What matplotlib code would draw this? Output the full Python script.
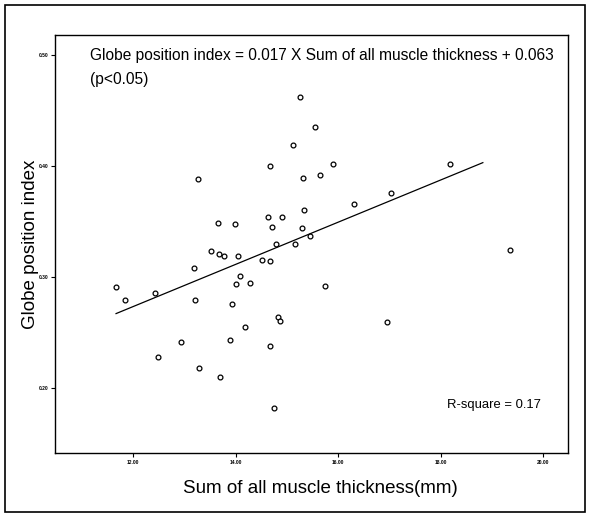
import numpy as np
import matplotlib
matplotlib.use("Agg")
import matplotlib.pyplot as plt
from matplotlib.patches import Rectangle

plt.rcParams['font.family'] = ['Liberation Sans', 'DejaVu Sans']

thickness = [11.67, 11.84, 12.43, 12.49, 12.94, 13.19, 13.21, 13.27, 13.29, 13.52,
             13.66, 13.68, 13.69, 13.77, 13.89, 13.93, 13.99, 14.01, 14.05, 14.09,
             14.18, 14.28, 14.51, 14.63, 14.67, 14.67, 14.67, 14.71, 14.75, 14.79,
             14.82, 14.86, 14.90, 15.12, 15.16, 15.25, 15.29, 15.31, 15.33, 15.45,
             15.55, 15.64, 15.74, 15.90, 16.31, 16.95, 17.03, 18.18, 19.34]
gpi = [0.291, 0.279, 0.286, 0.228, 0.241, 0.308, 0.279, 0.388, 0.218, 0.323,
       0.349, 0.321, 0.210, 0.319, 0.243, 0.276, 0.348, 0.294, 0.319, 0.301,
       0.255, 0.295, 0.315, 0.354, 0.400, 0.314, 0.238, 0.345, 0.182, 0.330,
       0.264, 0.260, 0.354, 0.419, 0.330, 0.462, 0.344, 0.389, 0.360, 0.337,
       0.435, 0.392, 0.292, 0.402, 0.366, 0.259, 0.376, 0.402, 0.324]

line_x = [11.67, 18.82]
line_y = [0.267, 0.403]

xticks = [12, 14, 16, 18, 20]
yticks = [0.20, 0.30, 0.40, 0.50]

fig = plt.figure(figsize=(5.9, 5.16), dpi=100)
fig.patches.append(Rectangle((5/590, 4/516), 580/590, 507/516, transform=fig.transFigure,
                             fill=False, edgecolor="black", linewidth=1.2))
ax = fig.add_axes([55/590, 1 - 453/516, 513/590, 418/516])

ax.scatter(thickness, gpi, s=12, facecolors="white", edgecolors="black", linewidths=0.9, zorder=3)
ax.plot(line_x, line_y, color="black", linewidth=0.9, zorder=2)

ax.set_xlim(10.48, 20.48)
ax.set_ylim(0.1414, 0.518)
ax.set_xticks(xticks)
ax.set_xticklabels([f"{v:.2f}" for v in xticks], fontsize=3.5, fontweight="bold")
ax.set_yticks(yticks)
ax.set_yticklabels([f"{v:.2f}" for v in yticks], fontsize=3.5, fontweight="bold")
ax.tick_params(direction="out", length=3, width=0.8, pad=2)
for s in ax.spines.values():
    s.set_linewidth(1.0)

ax.set_xlabel("Sum of all muscle thickness(mm)", fontsize=13.5, va="top")
ax.xaxis.set_label_coords(0.517, -0.065)
ax.set_ylabel("Globe position index", fontsize=13.5)
ax.yaxis.set_label_coords(-0.032, 0.5)

ax.text(0.068, 0.968, "Globe position index = 0.017 X Sum of all muscle thickness + 0.063",
        transform=ax.transAxes, fontsize=11.2, va="top", ha="left")
ax.text(0.068, 0.912, "(p<0.05)", transform=ax.transAxes, fontsize=11.2, va="top", ha="left")
ax.text(0.765, 0.115, "R-square = 0.17", transform=ax.transAxes, fontsize=9.4, va="center", ha="left")

fig.savefig("out.png", dpi=100)
